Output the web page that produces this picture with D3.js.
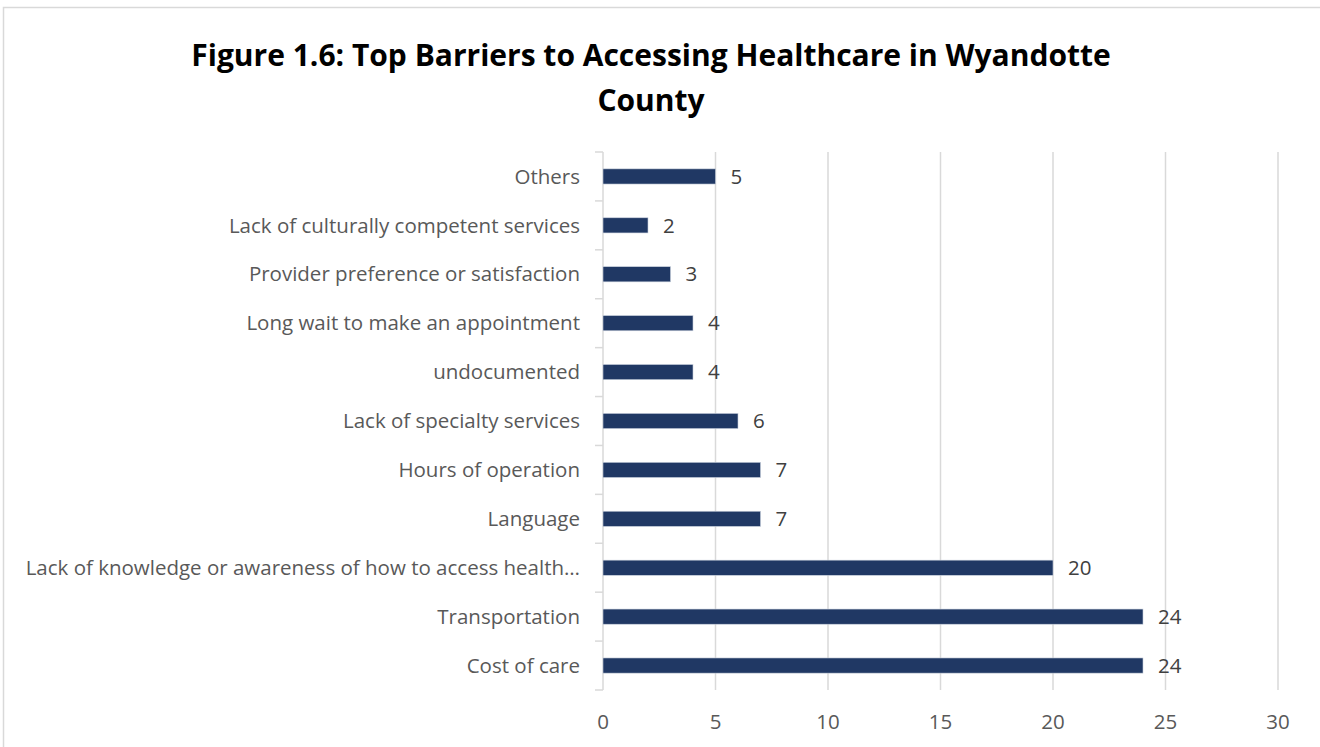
<!DOCTYPE html>
<html>
<head>
<meta charset="utf-8">
<script src="https://cdn.jsdelivr.net/npm/d3@7"></script>
<style>
  html, body { margin: 0; padding: 0; background: #fff; }
  svg { display: block; }
</style>
</head>
<body>
<svg id="chart" width="1320" height="747"></svg>
<script>
// Survey responses: top barriers to accessing healthcare (listed top to bottom)
const categories = [
  "Others",
  "Lack of culturally competent services",
  "Provider preference or satisfaction",
  "Long wait to make an appointment",
  "undocumented",
  "Lack of specialty services",
  "Hours of operation",
  "Language",
  "Lack of knowledge or awareness of how to access health\u2026",
  "Transportation",
  "Cost of care"
];
const counts = [5, 2, 3, 4, 4, 6, 7, 7, 20, 24, 24];
const xTicks = [0, 5, 10, 15, 20, 25, 30];
const titleLines = ["Figure 1.6: Top Barriers to Accessing Healthcare in Wyandotte", "County"];

const data = categories.map((c, i) => ({ label: c, value: counts[i] }));

const svg = d3.select("#chart");
const font = "'Open Sans', sans-serif";
const labelSize = 20.5;

// chart frame
svg.append("rect")
  .attr("x", 3.5).attr("y", 7.5)
  .attr("width", 1330).attr("height", 760)
  .attr("fill", "#fff")
  .attr("stroke", "#d9d9d9")
  .attr("stroke-width", 1.5);

// title
svg.append("g").selectAll("text")
  .data(titleLines)
  .join("text")
  .attr("x", 651)
  .attr("y", (d, i) => 66 + i * 45)
  .attr("text-anchor", "middle")
  .attr("font-family", font)
  .attr("font-weight", "bold")
  .attr("font-size", 30)
  .attr("fill", "#000")
  .text(d => d);

const plot = { left: 603, right: 1278, top: 152, bottom: 690 };

const x = d3.scaleLinear().domain([0, 30]).range([plot.left, plot.right]);
const y = d3.scaleBand()
  .domain(categories)
  .range([plot.top, plot.bottom])
  .paddingInner(0.69)
  .paddingOuter(0.345);
const yEdges = d3.scaleBand().domain(categories).range([plot.top, plot.bottom]).padding(0);

// vertical gridlines
svg.append("g").selectAll("line")
  .data(xTicks.filter(t => t > 0))
  .join("line")
  .attr("x1", d => x(d)).attr("x2", d => x(d))
  .attr("y1", plot.top).attr("y2", plot.bottom)
  .attr("stroke", "#d9d9d9")
  .attr("stroke-width", 1.5);

// category axis with tick marks at band boundaries
const axisG = svg.append("g");
axisG.append("line")
  .attr("x1", plot.left).attr("x2", plot.left)
  .attr("y1", plot.top).attr("y2", plot.bottom)
  .attr("stroke", "#d9d9d9").attr("stroke-width", 1.5);
const edges = categories.map(c => yEdges(c)).concat([plot.bottom]);
axisG.selectAll("line.tick")
  .data(edges)
  .join("line")
  .attr("class", "tick")
  .attr("x1", plot.left - 8).attr("x2", plot.left)
  .attr("y1", d => d).attr("y2", d => d)
  .attr("stroke", "#d9d9d9").attr("stroke-width", 1.5);

// category labels
svg.append("g").selectAll("text")
  .data(data)
  .join("text")
  .attr("x", 580)
  .attr("y", d => y(d.label) + y.bandwidth() / 2)
  .attr("dy", "0.35em")
  .attr("text-anchor", "end")
  .attr("font-family", font)
  .attr("font-size", labelSize)
  .attr("fill", "#595959")
  .text(d => d.label);

// bars
svg.append("g").selectAll("rect")
  .data(data)
  .join("rect")
  .attr("x", x(0))
  .attr("y", d => y(d.label))
  .attr("width", d => x(d.value) - x(0))
  .attr("height", y.bandwidth())
  .attr("fill", "#203864")
  .attr("stroke", "#c9d0dc")
  .attr("stroke-width", 0.6);

// value labels
svg.append("g").selectAll("text")
  .data(data)
  .join("text")
  .attr("x", d => x(d.value) + 15)
  .attr("y", d => y(d.label) + y.bandwidth() / 2)
  .attr("dy", "0.35em")
  .attr("font-family", font)
  .attr("font-size", labelSize)
  .attr("fill", "#404040")
  .text(d => d.value);

// x tick labels
svg.append("g").selectAll("text")
  .data(xTicks)
  .join("text")
  .attr("x", d => x(d))
  .attr("y", 722)
  .attr("dy", "0.35em")
  .attr("text-anchor", "middle")
  .attr("font-family", font)
  .attr("font-size", labelSize)
  .attr("fill", "#595959")
  .text(d => d);
</script>
</body>
</html>
